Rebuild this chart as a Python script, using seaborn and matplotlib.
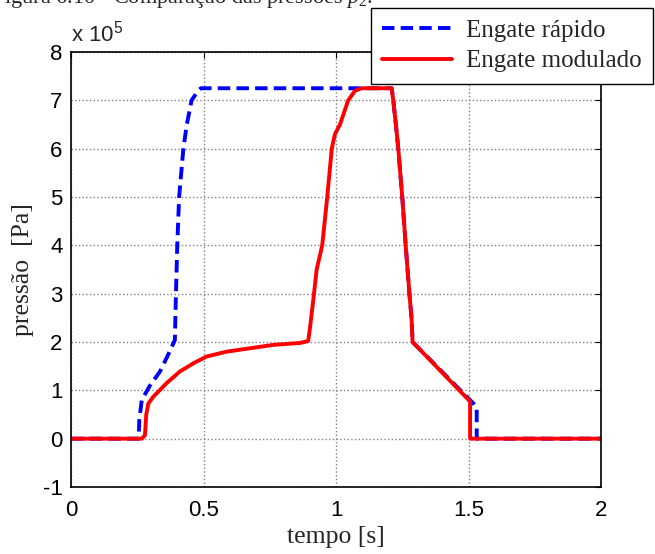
import matplotlib
matplotlib.use("Agg")
import matplotlib.pyplot as plt
import seaborn as sns
import pandas as pd

# pressure p2 for the two clutch engagement strategies (units of 1e5 Pa)
t_rapido = [0, 0.255, 0.258, 0.267, 0.298, 0.336, 0.366, 0.392, 0.396, 0.401,
            0.408, 0.424, 0.437, 0.455, 0.48, 0.49, 1.21, 1.216, 1.226, 1.235,
            1.25, 1.263, 1.277, 1.285, 1.289, 1.531, 1.531, 2.0]
p_rapido = [0, 0, 0.4, 0.8, 1.1, 1.39, 1.73, 2.04, 3.0, 4.0,
            5.0, 6.0, 6.5, 7.0, 7.2, 7.25, 7.25, 7.0, 6.5, 6.0,
            5.0, 4.0, 3.0, 2.5, 2.0, 0.66, 0, 0]

t_modulado = [0, 0.267, 0.279, 0.284, 0.292, 0.311, 0.361, 0.411, 0.462, 0.512,
              0.587, 0.675, 0.763, 0.864, 0.895, 0.902, 0.917, 0.927, 0.948, 0.967,
              0.984, 0.996, 1.015, 1.046, 1.072, 1.097, 1.21, 1.216, 1.226, 1.235,
              1.25, 1.263, 1.277, 1.285, 1.289, 1.506, 1.506, 2.0]
p_modulado = [0, 0, 0.07, 0.5, 0.73, 0.87, 1.15, 1.39, 1.56, 1.70,
              1.80, 1.87, 1.94, 1.98, 2.02, 2.3, 3.0, 3.5, 4.0, 5.0,
              6.0, 6.3, 6.5, 7.0, 7.2, 7.25, 7.25, 7.0, 6.5, 6.0,
              5.0, 4.0, 3.0, 2.5, 2.0, 0.77, 0, 0]

x_ticks = [0, 0.5, 1, 1.5, 2]
y_ticks = [-1, 0, 1, 2, 3, 4, 5, 6, 7, 8]

sns.set_style("white")
plt.rcParams['font.family'] = ['Liberation Sans', 'DejaVu Sans']
plt.rcParams['mathtext.fontset'] = 'custom'
plt.rcParams['mathtext.it'] = 'Liberation Serif:italic'
plt.rcParams['mathtext.default'] = 'regular'

df_r = pd.DataFrame({'t': t_rapido, 'p': p_rapido})
df_m = pd.DataFrame({'t': t_modulado, 'p': p_modulado})

fig = plt.figure(figsize=(6.55, 5.54), dpi=100)
ax = fig.add_axes([71 / 655, 1 - 487 / 554, 530 / 655, 435 / 554])

sns.lineplot(data=df_r, x='t', y='p', sort=False, estimator=None, ax=ax,
             color='#0000ff', linewidth=2.8, label='Engate rápido')
ax.lines[-1].set_dashes((3.2, 1.6))
sns.lineplot(data=df_m, x='t', y='p', sort=False, estimator=None, ax=ax,
             color='#ff0000', linewidth=2.8, label='Engate modulado')

ax.set_xlim(0, 2)
ax.set_ylim(-1, 8)
ax.set_xticks(x_ticks)
ax.set_xticklabels(['0', '0.5', '1', '1.5', '2'])
ax.set_yticks(y_ticks)
ax.set_yticklabels([str(v) for v in y_ticks])
ax.grid(True, linestyle=':', color='#808080', linewidth=1.0)
ax.tick_params(direction='in', top=True, right=True, length=4, width=0.8,
               labelsize=16, colors='black')
ax.tick_params(axis='x', pad=9)
ax.tick_params(axis='y', pad=6)
for s in ax.spines.values():
    s.set_color('black')
    s.set_linewidth(1.2)

serif = ['Liberation Serif', 'DejaVu Serif']
ax.set_xlabel('tempo [s]', family=serif, fontsize=18.5, labelpad=4)
ax.set_ylabel('pressão  [Pa]', family=serif, fontsize=18.5, labelpad=6)
ax.text(0.0, 8.207, r'x 10$^5$', fontsize=16, ha='left', va='baseline')

leg = ax.legend(loc='upper right', bbox_to_anchor=(653 / 655, 1 - 8 / 554),
                bbox_transform=fig.transFigure, prop={'family': serif, 'size': 18},
                frameon=True, fancybox=False, framealpha=1, edgecolor='black',
                handlelength=2.8, borderpad=0.45, labelspacing=0.32,
                handletextpad=0.55, borderaxespad=0)
leg.get_frame().set_linewidth(1.0)

fig.text(-0.012, 1 - 3 / 554, r'Figura 6.10 - Comparação das pressões $\mathit{p}_2$.',
         family=serif, fontsize=16, va='baseline', ha='left')

fig.savefig('out.png', dpi=100)
